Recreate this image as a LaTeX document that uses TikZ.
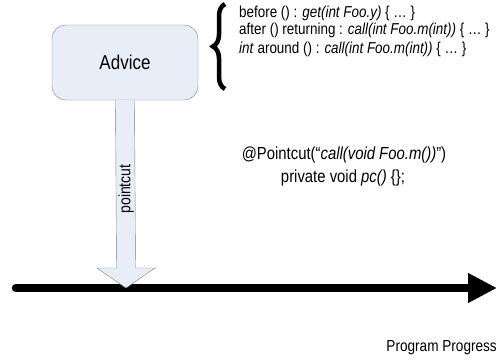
\documentclass[tikz,border=0pt]{standalone}
\usepackage{fontspec}
\setmainfont[FakeStretch=0.85]{Liberation Sans}
\usepackage{tikz}
\usetikzlibrary{
  arrows.meta,
  positioning,
  calc,
  decorations.pathreplacing,
}
\definecolor{boxedge}{HTML}{7F7F7F}
\definecolor{boxbluebg}{HTML}{E8EEF8}

\begin{document}
\begin{tikzpicture}[
    x=1pt, y=-1pt,
    advicebox/.style={rectangle, rounded corners=14pt, draw=boxedge, fill=boxbluebg,
                      minimum width=146pt, minimum height=75pt,
                      font=\fontsize{20}{23}\selectfont},
    codeline/.style={anchor=west, inner sep=0pt, font=\fontsize{15.8}{18}\selectfont},
    cutline/.style={inner sep=0pt, font=\fontsize{17.5}{20}\selectfont},
  ]
  \useasboundingbox (0,0) rectangle (499,362);

  \node[advicebox] (advice) at (125,62.5) {Advice};

  % the advice kinds
  \node[codeline] (before) at (239,13) {before () : \textit{get(int Foo.y)} \{ \ldots\ \}};
  \node[codeline] (after)  at (239,30) {after () returning : \textit{call(int Foo.m(int))} \{ \ldots\ \}};
  \node[codeline] (around) at (239,49) {\textit{int} around () : \textit{call(int Foo.m(int))} \{ \ldots\ \}};
  \coordinate (bracelow) at (225,89);
  \coordinate (bracetop) at (225,4);
  \draw[line width=4.5pt, decorate, decoration={brace, amplitude=12pt}]
    (bracelow) -- (bracetop);

  % timeline
  \coordinate (start) at (16,288);
  \coordinate (stop)  at (497,288);
  \coordinate (hit)   at (126,288);
  \draw[line width=8.5pt, line cap=round, -{Triangle[length=29pt, width=28pt]}]
    (start) -- (stop);

  % pointcut arrow
  \draw[draw=boxedge, fill=boxbluebg]
    ($(advice.south)+(-9.5,0)$) -- ($(hit)+(-9.5,-20)$) -- ($(hit)+(-29,-20)$)
    -- (hit) -- ($(hit)+(29,-20)$) -- ($(hit)+(9.5,-20)$)
    -- ($(advice.south)+(9.5,0)$);
  \node[rotate=90, inner sep=0pt, font=\fontsize{16.5}{18}\selectfont]
    (cutlabel) at (126,189) {pointcut};

  \node[cutline] (decl) at (344,155) {@Pointcut(``\textit{call(void Foo.m())}'')};
  \node[cutline] (body) at (343,178) {private void \textit{pc()} \{\};};

  \node[anchor=east, inner sep=0pt, font=\fontsize{16}{18}\selectfont]
    (progress) at (497,348) {Program Progress};
\end{tikzpicture}
\end{document}
